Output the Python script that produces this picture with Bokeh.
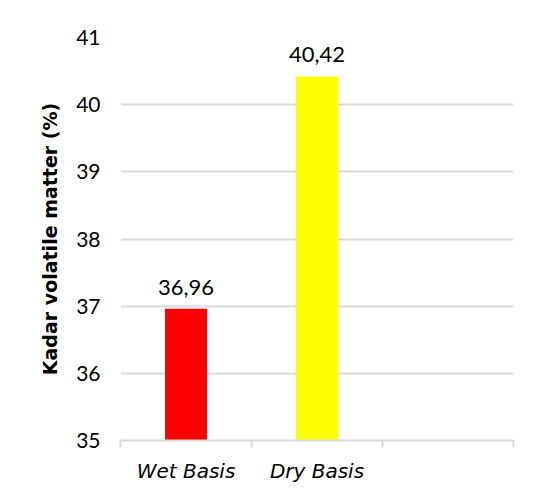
from bokeh.plotting import figure
from bokeh.models import ColumnDataSource, FixedTicker, LabelSet, Range1d, BoxAnnotation
from bokeh.core.properties import value
from bokeh.embed import file_html
from bokeh.resources import INLINE

categories = ["Wet Basis", "Dry Basis", ""]
values = [36.96, 40.42]
colors = ["#ff0000", "#ffff00"]
y_ticks = [35, 36, 37, 38, 39, 40, 41]

xs = [i + 0.5 for i in range(len(values))]
labels = [f"{v:.2f}".replace(".", ",") for v in values]
src = ColumnDataSource(dict(x=xs, top=values, color=colors, label=labels))

p = figure(width=530, height=491, output_backend="svg", toolbar_location=None,
           x_range=Range1d(0, len(categories)), y_range=Range1d(35, 41),
           min_border_left=120, min_border_right=17, min_border_top=37, min_border_bottom=51)
p.outline_line_color = None

# outer chart-area border (left and top visible, right/bottom beyond the window)
p.add_layout(BoxAnnotation(left=0, right=700, top=0, bottom=700,
                           left_units="canvas", right_units="canvas",
                           top_units="canvas", bottom_units="canvas",
                           fill_color=None, line_color="#d9d9d9", line_width=3,
                           level="overlay"))

p.vbar(x="x", top="top", bottom=35, width=0.32, fill_color="color", line_color=None, source=src)

p.add_layout(LabelSet(x="x", y="top", text="label", source=src, text_align="center",
                      text_baseline="bottom", y_offset=14, text_font=value("Lato"),
                      text_font_size="22px", text_color="#000000"))

# x axis
p.xaxis.ticker = FixedTicker(ticks=xs + [2.5], minor_ticks=[0, 1, 2, 3])
p.xaxis.major_label_overrides = {x: c for x, c in zip(xs + [2.5], categories)}
p.xaxis.major_tick_line_color = None
p.xaxis.minor_tick_line_color = "#d9d9d9"
p.xaxis.minor_tick_line_width = 2
p.xaxis.minor_tick_out = 7
p.xaxis.minor_tick_in = 0
p.xaxis.axis_line_color = "#d9d9d9"
p.xaxis.axis_line_width = 2
p.xaxis.major_label_text_font = "DejaVu Sans"
p.xaxis.major_label_text_font_style = "italic"
p.xaxis.major_label_text_font_size = "20px"
p.xaxis.major_label_text_color = "#000000"
p.xaxis.major_label_standoff = 11
p.xgrid.grid_line_color = None

# y axis
p.yaxis.ticker = FixedTicker(ticks=y_ticks)
p.yaxis.axis_line_color = None
p.yaxis.major_tick_line_color = None
p.yaxis.minor_tick_line_color = None
p.yaxis.major_label_text_font = "Lato"
p.yaxis.major_label_text_font_size = "21px"
p.yaxis.major_label_text_color = "#000000"
p.yaxis.major_label_standoff = 14
p.yaxis.axis_label = "Kadar volatile matter (%)"
p.yaxis.axis_label_text_font = "DejaVu Sans"
p.yaxis.axis_label_text_font_style = "bold"
p.yaxis.axis_label_text_font_size = "19px"
p.yaxis.axis_label_text_color = "#000000"
p.yaxis.axis_label_standoff = 12
p.ygrid.grid_line_color = "#d9d9d9"
p.ygrid.grid_line_width = 2

open("out.html", "w").write(file_html(p, INLINE))
